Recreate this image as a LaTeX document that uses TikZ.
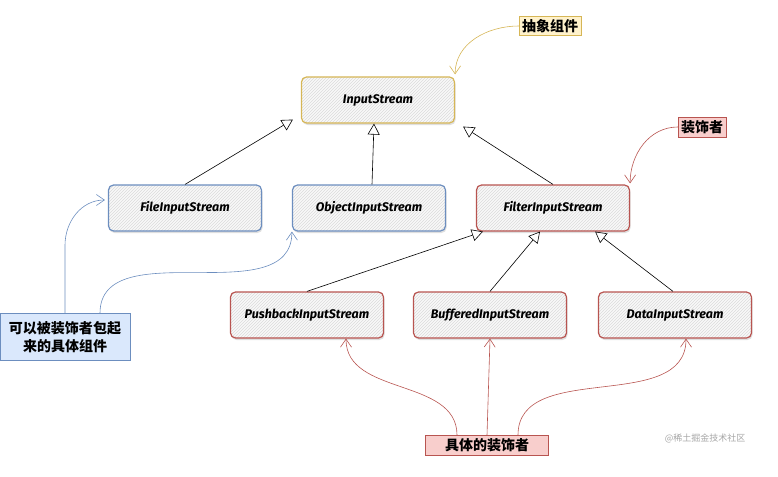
\documentclass[tikz,border=0pt]{standalone}
\usepackage{fontspec}
\setsansfont{Fira Sans}
\newfontfamily\cjk{Noto Sans CJK SC}
\usetikzlibrary{arrows.meta,patterns,shadows}
\definecolor{ylw}{HTML}{D6B656}
\definecolor{ylwfill}{HTML}{FFF2CC}
\definecolor{rd}{HTML}{B85450}
\definecolor{rdfill}{HTML}{F8CECC}
\definecolor{bl}{HTML}{6C8EBF}
\definecolor{blfill}{HTML}{DAE8FC}

\begin{document}
\begin{tikzpicture}[x=1pt, y=-1pt,
    stream/.style ={rectangle, rounded corners=5pt, draw, line width=1.2pt, minimum width=153pt,
      minimum height=46pt, font=\sffamily\bfseries\itshape\fontsize{12.5}{14}\selectfont,
      drop shadow={opacity=0.25, shadow xshift=1pt, shadow yshift=-2pt},
      preaction={fill=gray!5}, pattern=north east lines, pattern color=gray!28},
    note/.style ={rectangle, draw, font=\cjk\bfseries\fontsize{14}{18}\selectfont, inner sep=3pt},
    extends/.style ={semithick, -{Triangle[open, length=11pt, width=12pt]}},
    pointer/.style ={semithick, -{Straight Barb[length=8pt, width=11pt]}}]
   \useasboundingbox (0,0) rectangle (778,476);
   % components
   \node[stream, draw=ylw] (IS) at (378,100) {InputStream};
   \node[stream, draw=bl] (FIS) at (185,208) {FileInputStream};
   \node[stream, draw=bl] (OIS) at (369,208) {ObjectInputStream};
   \node[stream, draw=rd] (FLT) at (553,208) {FilterInputStream};
   \node[stream, draw=rd] (PIS) at (307,315) {PushbackInputStream};
   \node[stream, draw=rd] (BIS) at (490,315) {BufferedInputStream};
   \node[stream, draw=rd] (DIS) at (675,315) {DataInputStream};
   % notes
   \node[note, draw=ylw, fill=ylwfill] (abs) at (550,26) {抽象组件};
   \node[note, draw=rd, fill=rdfill] (dec) at (702,127) {装饰者};
   \node[note, draw=bl, fill=blfill, minimum width=130pt, minimum height=47pt, align=center]
     (cmp) at (65,337) {可以被装饰者包起\\来的具体组件};
   \node[note, draw=rd, fill=rdfill, minimum width=123pt] (cdec) at (487,445) {具体的装饰者};
   \node[font=\cjk\small, text=gray!70] (wm) at (705,438) {@稀土掘金技术社区};
   % inheritance
   \draw[extends] (FIS.north) to ([xshift=-8pt, yshift=4pt]IS.south west);
   \draw[extends] ([xshift=3pt]OIS.north) to ([xshift=-4pt]IS.south);
   \draw[extends] (FLT.north) to ([xshift=8pt, yshift=-3pt]IS.south east);
   \draw[extends] (PIS.north) to ([xshift=7pt]FLT.south west);
   \draw[extends] (BIS.north) to ([xshift=-13pt]FLT.south);
   \draw[extends] ([xshift=-2pt]DIS.north) to ([xshift=-35pt]FLT.south east);
   % annotations
   \draw[pointer, ylw] (abs.west) to[out=180, in=90] ([yshift=2pt]IS.north east);
   \draw[pointer, rd] (dec.west) to[out=180, in=90] ([yshift=1pt]FLT.north east);
   \draw[pointer, bl] (cmp.north) -- ++(0,-68) to[out=90, in=180] ([xshift=-3pt, yshift=8pt]FIS.west);
   \draw[pointer, bl] ([xshift=35pt]cmp.north) to[out=90, in=270] (OIS.south west);
   \draw[pointer, rd] ([xshift=-30pt]cdec.north) to[out=90, in=270] ([xshift=39pt]PIS.south);
   \draw[pointer, rd] (cdec.north) to (BIS.south);
   \draw[pointer, rd] ([xshift=31pt]cdec.north) to[out=90, in=270] ([xshift=11pt]DIS.south);
 \end{tikzpicture}
\end{document}
